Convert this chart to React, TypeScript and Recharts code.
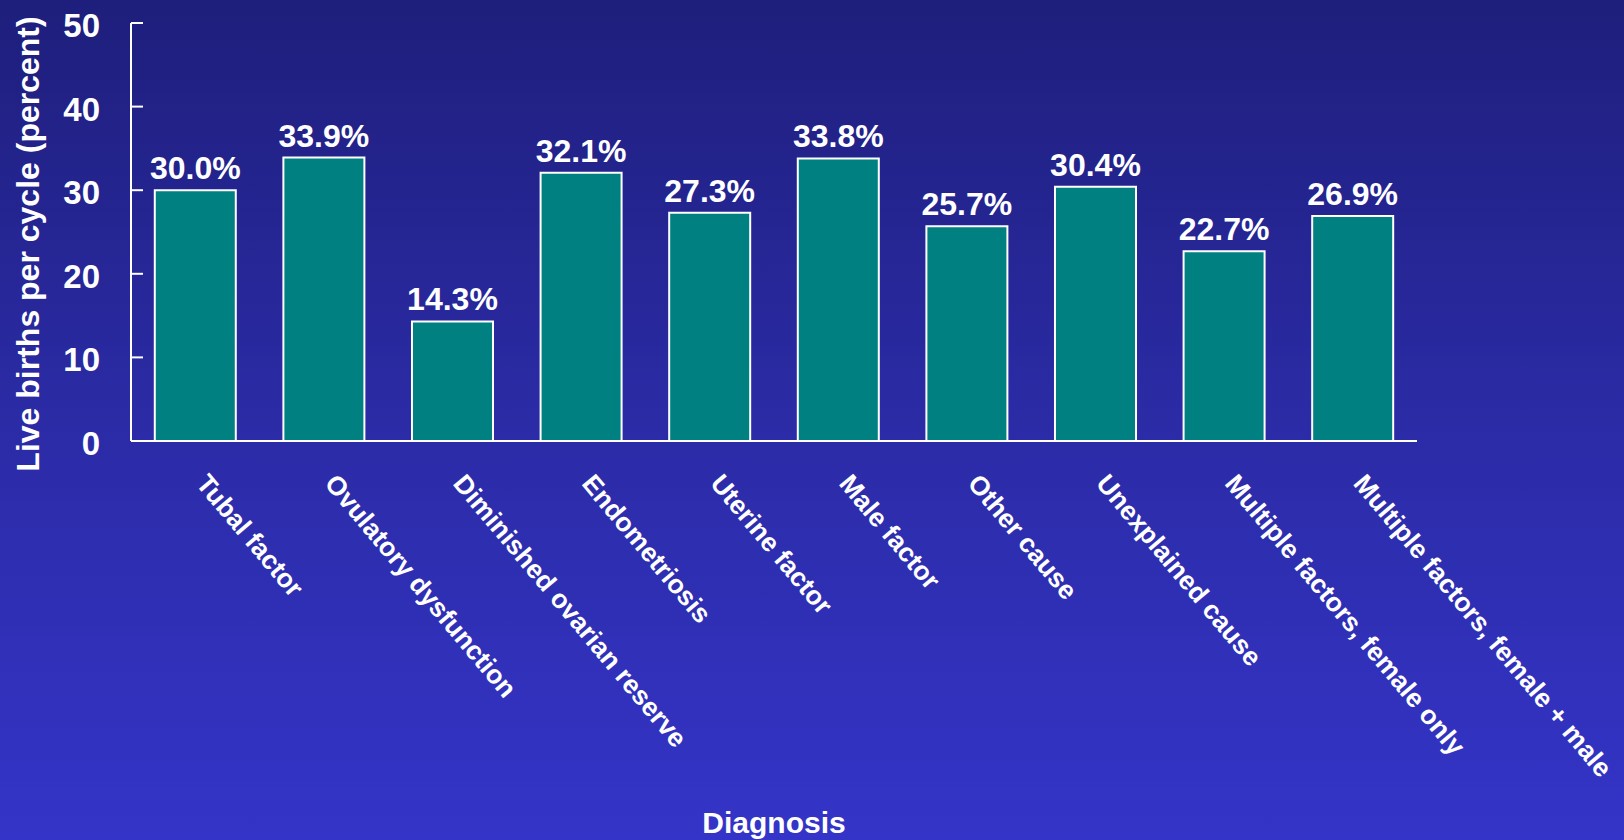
import { Bar, BarChart, XAxis, YAxis, LabelList, Label } from "recharts";

const diagnoses = [
  "Tubal factor",
  "Ovulatory dysfunction",
  "Diminished ovarian reserve",
  "Endometriosis",
  "Uterine factor",
  "Male factor",
  "Other cause",
  "Unexplained cause",
  "Multiple factors, female only",
  "Multiple factors, female + male",
];

const liveBirthRates = [30.0, 33.9, 14.3, 32.1, 27.3, 33.8, 25.7, 30.4, 22.7, 26.9];

const yTicks = [0, 10, 20, 30, 40, 50];

const data = diagnoses.map((name, i) => ({ name, rate: liveBirthRates[i] }));

const FONT = "'Liberation Sans', Arial, Helvetica, sans-serif";
const WHITE = "#ffffff";
const TICK_GAP = 31;

const YTick = ({ x, y, payload }: any) => (
  <g>
    <text
      x={x}
      y={y}
      dy={14}
      textAnchor="end"
      fill={WHITE}
      fontSize={33}
      fontWeight="bold"
      fontFamily={FONT}
    >
      {payload.value}
    </text>
    <line x1={x + TICK_GAP} x2={x + TICK_GAP + 12} y1={y} y2={y} stroke={WHITE} strokeWidth={2} />
  </g>
);

const XTick = ({ x, y, payload }: any) => {
  const tx = x + 14;
  return (
    <text
      x={tx}
      y={y}
      dy="0.71em"
      transform={`rotate(50, ${tx}, ${y})`}
      textAnchor="start"
      fill={WHITE}
      fontSize={26.5}
      fontWeight="bold"
      fontFamily={FONT}
    >
      {payload.value}
    </text>
  );
};

const YTitle = ({ viewBox }: any) => {
  const cx = 28;
  const cy = viewBox.y + viewBox.height / 2 + 12;
  return (
    <text
      x={cx}
      y={cy}
      transform={`rotate(-90, ${cx}, ${cy})`}
      textAnchor="middle"
      dominantBaseline="central"
      fill={WHITE}
      fontSize={32}
      fontWeight="bold"
      fontFamily={FONT}
    >
      Live births per cycle (percent)
    </text>
  );
};

export default function App() {
  return (
    <div
      style={{
        position: "fixed",
        left: 0,
        top: 0,
        width: 1624,
        height: 840,
        background: "linear-gradient(to bottom, #1e1e7c 0%, #2b2ba6 50%, #3434c8 100%)",
      }}
    >
      <BarChart
        width={1624}
        height={840}
        data={data}
        margin={{ top: 23, right: 207, bottom: 0, left: 0 }}
        barCategoryGap="18.5%"
      >
        <YAxis
          width={131}
          domain={[0, 50]}
          ticks={yTicks}
          interval={0}
          axisLine={{ stroke: WHITE, strokeWidth: 2 }}
          tickLine={false}
          tickSize={0}
          tickMargin={TICK_GAP}
          tick={YTick}
        >
          <Label content={YTitle} />
        </YAxis>
        <XAxis
          dataKey="name"
          height={399}
          interval={0}
          axisLine={{ stroke: WHITE, strokeWidth: 2 }}
          tickLine={false}
          tickSize={0}
          tickMargin={31}
          tick={XTick}
        >
          <Label
            value="Diagnosis"
            position="insideBottom"
            offset={7}
            fill={WHITE}
            fontSize={30}
            fontWeight="bold"
            fontFamily={FONT}
          />
        </XAxis>
        <Bar dataKey="rate" fill="#008080" stroke={WHITE} strokeWidth={2} isAnimationActive={false}>
          <LabelList
            dataKey="rate"
            position="top"
            offset={11}
            fill={WHITE}
            fontSize={32}
            fontWeight="bold"
            fontFamily={FONT}
            formatter={(v: any) => `${Number(v).toFixed(1)}%`}
          />
        </Bar>
      </BarChart>
    </div>
  );
}
